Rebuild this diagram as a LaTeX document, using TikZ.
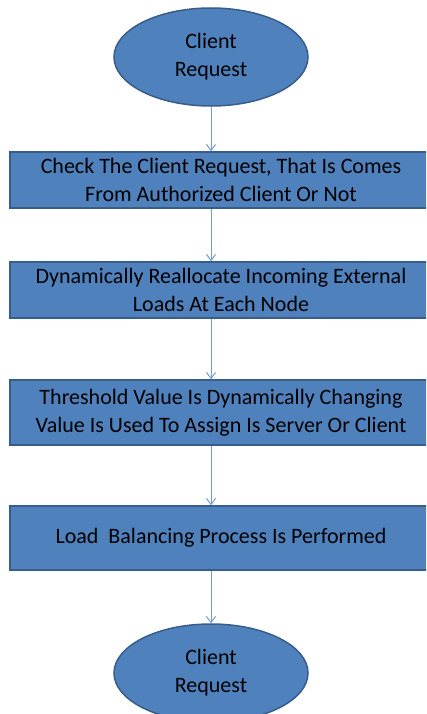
\documentclass[tikz,border=0pt]{standalone}
\usepackage{fontspec}
\setmainfont{Carlito}
\usetikzlibrary{shapes.geometric,arrows.meta}
\definecolor{boxfill}{HTML}{4F81BD}
\definecolor{boxline}{HTML}{385D8A}
\definecolor{linkline}{HTML}{6F9BD8}
\tikzset{
  x=1bp, y=-1bp,
  every node/.style={font=\fontsize{22bp}{28bp}\selectfont, text=black, align=center},
  terminal/.style={ellipse, draw=boxline, line width=1.5bp, fill=boxfill,
    minimum width=194bp, minimum height=98bp, inner sep=0pt},
  stepbox/.style={rectangle, draw=boxline, line width=1.5bp, fill=boxfill,
    minimum width=422bp, inner sep=0pt},
  link/.style={draw=linkline, line width=1bp,
    -{Straight Barb[length=6bp,width=9bp,line width=1bp]}}
}
\begin{document}
\begin{tikzpicture}
  \useasboundingbox (0,0) rectangle (426,714);
  \begin{scope}
    \clip (0,0) rectangle (426,714);
    \node[terminal] (start) at (211,57) {Client\\Request};
    \node[stepbox, minimum height=56bp] (s1) at (221,180)
      {Check The Client Request, That Is Comes\\From Authorized Client Or Not};
    \node[stepbox, minimum height=56bp] (s2) at (221,290)
      {Dynamically Reallocate Incoming External\\Loads At Each Node};
    \node[stepbox, minimum height=65bp] (s3) at (221,412.5)
      {Threshold Value Is Dynamically Changing\\Value Is Used To Assign Is Server Or Client};
    \node[stepbox, minimum height=64bp] (s4) at (221,538)
      {Load\ \ Balancing Process Is Performed};
    \node[terminal] (stop) at (211,673) {Client\\Request};
    \draw[link] (start.south) -- (start.south |- s1.north);
    \draw[link] (start.south |- s1.south) -- (start.south |- s2.north);
    \draw[link] (start.south |- s2.south) -- (start.south |- s3.north);
    \draw[link] (start.south |- s3.south) -- (start.south |- s4.north);
    \draw[link] (start.south |- s4.south) -- (stop.north);
  \end{scope}
\end{tikzpicture}
\end{document}
